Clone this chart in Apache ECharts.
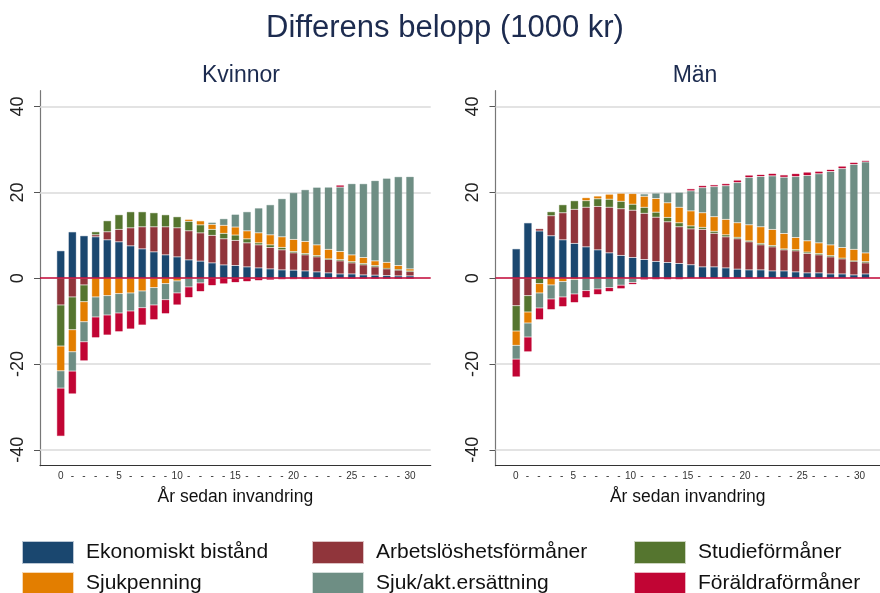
<!DOCTYPE html>
<html>
<head>
<meta charset="utf-8">
<script src="https://cdn.jsdelivr.net/npm/echarts@6/dist/echarts.min.js"></script>
<style>html,body{margin:0;padding:0;background:#fff;}#c{width:880px;height:593px;}</style>
</head>
<body>
<div id="c"></div>
<script>
// ---- data ----
const years = Array.from({length: 31}, (_, i) => i);
const yTicks = [-40, -20, 0, 20, 40];
const seriesNames = ['Ekonomiskt bistånd', 'Arbetslöshetsförmåner', 'Studieförmåner', 'Sjukpenning', 'Sjuk/akt.ersättning', 'Föräldraförmåner'];
const seriesColors = ['#1a476f', '#90353b', '#55752f', '#e37e00', '#6e8e84', '#c10534'];

// Kvinnor
const kEkon = [6.4, 10.8, 9.9, 9.66, 8.96, 8.49, 7.55, 6.85, 6.15, 5.45, 4.98, 4.28, 3.97, 3.58, 3.1, 2.96, 2.65, 2.41, 2.18, 1.95, 1.87, 1.71, 1.48, 1.25, 1.0, 1.0, 0.78, 0.7, 0.62, 0.55, 0.55];
const kArb = [-6.23, -4.36, -1.56, 0.47, 1.87, 2.88, 4.2, 5.14, 5.84, 6.54, 6.78, 6.78, 6.6, 6.39, 6.1, 5.84, 5.6, 5.37, 4.98, 4.67, 4.05, 3.74, 3.5, 3.12, 3.04, 2.57, 2.34, 1.95, 1.56, 1.32, 1.0];
const kStud = [-9.58, -7.63, -3.9, 0.7, 2.57, 3.43, 3.74, 3.5, 3.27, 2.8, 2.57, 2.18, 1.87, 1.4, 1.24, 1.25, 0.93, 0.47, 0.62, 0.55, 0.31, 0.31, 0.31, 0.16, 0.31, 0.31, 0.31, 0.31, 0.1, 0.16, 0.16];
const kSjukp = [-5.76, -5.14, -4.67, -4.36, -4.05, -3.58, -3.43, -2.96, -2.18, -1.25, -0.62, 0.47, 0.93, 1.17, 1.87, 1.87, 1.87, 2.34, 2.34, 2.49, 2.8, 2.8, 2.49, 2.18, 1.87, 1.56, 1.4, 1.09, 1.4, 0.93, 0.47];
const kSjukakt = [-4.05, -4.52, -4.67, -4.67, -4.52, -4.52, -4.2, -3.9, -4.05, -3.74, -2.8, -2.02, -1.09, 0.47, 1.56, 2.96, 4.44, 5.76, 7.0, 8.88, 10.9, 12.07, 13.4, 14.5, 15.0, 16.6, 17.2, 18.7, 19.6, 20.7, 21.5];
const kForald = [-11.2, -5.3, -4.44, -4.83, -4.67, -4.36, -4.2, -4.05, -3.43, -3.27, -2.8, -2.49, -2.02, -1.71, -1.3, -1.0, -0.78, -0.55, -0.4, -0.3, -0.25, -0.2, -0.2, -0.15, 0.47, -0.1, -0.1, -0.1, -0.1, -0.1, -0.1];

// Män
const mEkon = [6.85, 12.9, 11.0, 9.9, 8.96, 8.1, 7.32, 6.62, 5.92, 5.3, 4.83, 4.36, 3.9, 3.66, 3.43, 3.15, 2.65, 2.65, 2.41, 2.1, 1.95, 1.95, 1.71, 1.71, 1.48, 1.25, 1.25, 1.0, 1.0, 0.78, 1.0];
const mArb = [-6.39, -4.05, 0.55, 4.67, 6.3, 7.94, 9.2, 10.1, 10.6, 10.9, 11.0, 10.75, 10.3, 9.5, 8.57, 8.35, 8.72, 7.8, 7.24, 7.1, 6.54, 5.84, 5.6, 4.9, 4.9, 4.52, 4.2, 3.97, 3.5, 3.12, 2.57];
const mStud = [-5.92, -3.82, -1.25, 0.93, 1.87, 2.02, 1.56, 1.8, 1.87, 1.71, 1.4, 1.4, 1.17, 1.0, 0.93, 0.7, 0.47, 0.47, 0.47, 0.31, 0.23, 0.31, 0.31, 0.23, 0.31, 0.31, 0.31, 0.31, 0.16, 0.16, 0.31];
const mSjukp = [-3.35, -2.57, -2.18, -1.56, -0.78, -0.31, 0.7, 0.62, 1.17, 1.87, 2.5, 2.57, 3.2, 3.43, 3.58, 3.5, 3.43, 3.43, 3.58, 3.43, 3.74, 3.9, 3.74, 3.58, 2.8, 2.65, 2.49, 2.49, 2.49, 2.65, 2.02];
const mSjukakt = [-3.2, -3.27, -3.5, -3.27, -3.58, -3.35, -2.88, -2.49, -2.18, -1.64, -1.0, 0.55, 1.25, 2.34, 3.5, 4.67, 5.84, 7.0, 7.87, 9.35, 11.0, 11.7, 12.5, 13.1, 14.2, 15.2, 16.1, 17.1, 18.4, 19.8, 21.2];
const mForald = [-4.13, -3.43, -2.73, -2.49, -2.26, -2.02, -1.64, -1.32, -0.93, -0.8, -0.45, -0.35, -0.3, -0.3, -0.3, 0.47, 0.47, 0.4, 0.47, 0.55, 0.55, 0.47, 0.55, 0.55, 0.7, 0.78, 0.55, 0.47, 0.55, 0.47, 0.31];

const kData = [kEkon, kArb, kStud, kSjukp, kSjukakt, kForald];
const mData = [mEkon, mArb, mStud, mSjukp, mSjukakt, mForald];

// ---- chart ----
const FONT = '"Liberation Sans", Arial, sans-serif';
const chart = echarts.init(document.getElementById('c'), null, {renderer: 'canvas'});

function hexA(hex, a) {
  const n = parseInt(hex.slice(1), 16);
  return 'rgba(' + (n >> 16) + ',' + ((n >> 8) & 255) + ',' + (n & 255) + ',' + a + ')';
}

const Y_MIN = -43.7, Y_MAX = 43.7;
const X_MIN = -1.78, X_MAX = 31.78;
const PLOT_TOP = 90.7, PLOT_H = 375, PLOT_W = 390.7;
const panelLeft = [40, 495.5];

// decoration grids (axes, gridlines) + bar grids (category axis spanning year bands)
const grids = [], xAxes = [], yAxes = [];
panelLeft.forEach((L) => {
  grids.push({left: L, top: PLOT_TOP, width: PLOT_W, height: PLOT_H});
});
panelLeft.forEach((L) => {
  const pxPerYear = PLOT_W / (X_MAX - X_MIN);
  const bandLeft = L + (-0.5 - X_MIN) * pxPerYear;
  grids.push({left: bandLeft, top: PLOT_TOP, width: years.length * pxPerYear, height: PLOT_H});
});

[0, 1].forEach(gi => {
  xAxes.push({
    type: 'value', gridIndex: gi, min: X_MIN, max: X_MAX,
    name: 'År sedan invandring', nameLocation: 'middle', nameGap: 22,
    nameTextStyle: {fontFamily: FONT, fontSize: 17.5, color: '#111'},
    axisLine: {show: true, onZero: false, lineStyle: {color: '#333', width: 1.2}},
    axisTick: {show: false},
    splitLine: {show: false},
    axisLabel: {
      customValues: years, margin: 6, fontFamily: FONT, fontSize: 10, color: '#333',
      formatter: v => (v % 5 === 0 ? String(v) : '-')
    }
  });
  yAxes.push({
    type: 'value', gridIndex: gi, min: Y_MIN, max: Y_MAX,
    axisLine: {show: true, onZero: false, lineStyle: {color: '#777', width: 1.2}},
    axisTick: {show: true, customValues: yTicks, length: 6, lineStyle: {color: '#555'}},
    splitLine: {show: false},
    axisLabel: {customValues: yTicks, rotate: 90, margin: 13, fontFamily: FONT, fontSize: 18, color: '#222'}
  });
});
[2, 3].forEach(gi => {
  xAxes.push({type: 'category', gridIndex: gi, data: years, show: false, boundaryGap: true});
  yAxes.push({type: 'value', gridIndex: gi, min: Y_MIN, max: Y_MAX, show: false, splitLine: {show: false}});
});

const series = [];
[kData, mData].forEach((panel, p) => {
  const bi = p + 2;
  panel.forEach((vals, si) => {
    series.push({
      type: 'bar', name: seriesNames[si], xAxisIndex: bi, yAxisIndex: bi,
      stack: 'p' + p, barWidth: 8, z: 2,
      itemStyle: {color: seriesColors[si], borderColor: hexA(seriesColors[si], 0.3), borderWidth: 1},
      data: vals
    });
  });
  series.push({
    type: 'line', xAxisIndex: p, yAxisIndex: p, data: [], silent: true, z: 1,
    markLine: {
      silent: true, symbol: 'none', z: 1, animation: false, label: {show: false},
      lineStyle: {color: '#dadada', width: 1.5, type: 'solid'},
      data: yTicks.filter(t => t !== 0).map(t => ({yAxis: t}))
    }
  });
  series.push({
    type: 'line', xAxisIndex: p, yAxisIndex: p, data: [], silent: true, z: 6,
    markLine: {
      silent: true, symbol: 'none', z: 6, animation: false, label: {show: false},
      lineStyle: {color: '#c10534', width: 1.5, type: 'solid'},
      data: [{yAxis: 0}]
    }
  });
});

function legendCol(left, names) {
  return {
    left: left, top: 541, height: 120, orient: 'vertical', itemWidth: 50, itemHeight: 21, itemGap: 8,
    padding: 0, icon: 'rect', selectedMode: false, data: names,
    textStyle: {fontFamily: FONT, fontSize: 21, lineHeight: 21, color: '#111', padding: [0, 0, 0, 8]}
  };
}

chart.setOption({
  animation: false,
  backgroundColor: '#fff',
  title: [
    {text: 'Differens belopp (1000 kr)', left: 440, top: 8, textAlign: 'center',
     textStyle: {fontFamily: FONT, fontSize: 31, fontWeight: 'normal', color: '#1c2b4f'}},
    {text: 'Kvinnor', left: 236, top: 59, textAlign: 'center',
     textStyle: {fontFamily: FONT, fontSize: 23, fontWeight: 'normal', color: '#1c2b4f'}},
    {text: 'Män', left: 690, top: 59, textAlign: 'center',
     textStyle: {fontFamily: FONT, fontSize: 23, fontWeight: 'normal', color: '#1c2b4f'}}
  ],
  legend: [
    legendCol(22, [seriesNames[0], seriesNames[3]]),
    legendCol(312, [seriesNames[1], seriesNames[4]]),
    legendCol(634, [seriesNames[2], seriesNames[5]])
  ],
  grid: grids,
  xAxis: xAxes,
  yAxis: yAxes,
  series: series
});
</script>
</body>
</html>
